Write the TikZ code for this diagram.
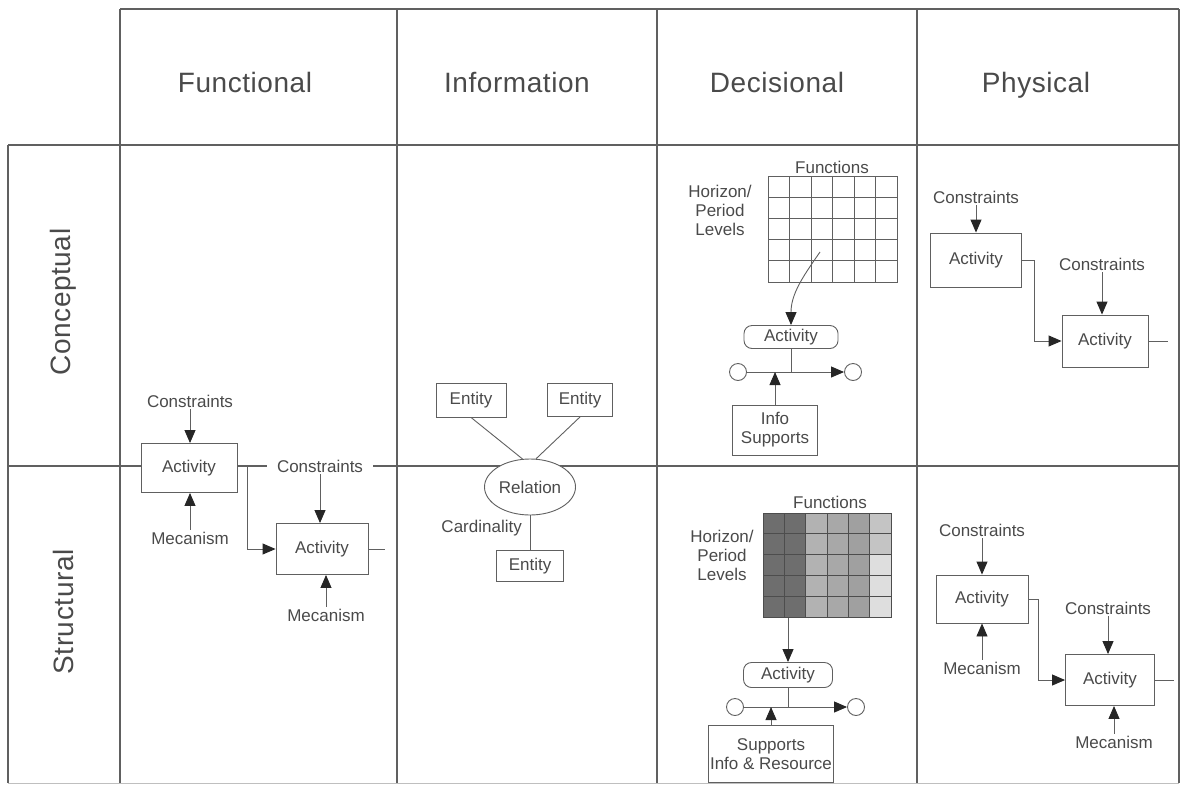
\documentclass[tikz,border=0pt]{standalone}
\usepackage{fontspec}
\setmainfont{Liberation Sans}
\newfontfamily\headfont[LetterSpace=2]{Liberation Sans}
\usetikzlibrary{arrows.meta,shapes.geometric}
\definecolor{ink}{HTML}{4A4A4A}
\definecolor{rule}{HTML}{606060}
\definecolor{tipc}{HTML}{262626}
\definecolor{shadeA}{HTML}{6E6E6E}
\definecolor{shadeB}{HTML}{B2B2B2}
\definecolor{shadeC}{HTML}{A8A8A8}
\definecolor{shadeD}{HTML}{A0A0A0}
\definecolor{shadeE}{HTML}{C4C4C4}
\definecolor{shadeF}{HTML}{DEDEDE}

\begin{document}
\begin{tikzpicture}[x=1pt,y=-1pt,
  every node/.style={text=ink,font=\fontsize{17}{19}\selectfont},
  rule/.style={draw=rule,line width=1.1pt},
  wire/.style={draw=rule,line width=0.9pt},
  arr/.style={wire,-{Triangle[length=13pt,width=11pt,color=tipc]}},
  head/.style={font=\headfont\fontsize{28}{32}\selectfont,anchor=base},
  actbox/.style={draw=rule,line width=0.9pt,fill=white,inner sep=0pt},
  roundact/.style={actbox,rounded corners=8pt},
  lbl/.style={inner sep=2pt},
  ent/.style={actbox},
  dot/.style={circle,draw=rule,line width=0.9pt,fill=white,minimum size=17pt,inner sep=0pt}
]
\useasboundingbox (0,0) rectangle (1182,785);

% ---- table frame ----
\draw[rule] (120,9) -- (1179,9);
\draw[rule] (8,145) -- (1179,145);
\draw[rule] (8,466) -- (1179,466);
\draw[draw=rule!40,line width=0.8pt] (8,783) -- (1179,783);
\draw[rule] (8,145) -- (8,783);
\foreach \x in {120,397,657,917,1179} \draw[rule] (\x,9) -- (\x,783);

% ---- headers ----
\node[head] (hfun) at (245,92) {Functional};
\node[head] (hinf) at (517,92) {Information};
\node[head] (hdec) at (777,92) {Decisional};
\node[head] (hphy) at (1036,92) {Physical};
\node[head,rotate=90,anchor=center] (rcon) at (63,302) {Conceptual};
\node[head,rotate=90,anchor=center] (rstr) at (63,612) {Structural};

% ---- functional view ----
\node[actbox,minimum width=96pt,minimum height=49pt] (fa1) at (189,468) {Activity};
\node[actbox,minimum width=92pt,minimum height=51pt] (fa2) at (322,549) {Activity};
\node[lbl] (fc1) at (190,401) {Constraints};
\node[lbl] (fm1) at (190,538) {Mecanism};
\node[fill=white,inner xsep=10pt,inner ysep=2pt] (fc2) at (320,466) {Constraints};
\node[lbl] (fm2) at (326,615) {Mecanism};
\coordinate (fsplit) at (247,466);
\draw[arr] (fc1.south) -- (fc1.south |- fa1.north);
\draw[arr] (fm1.north) -- (fm1.north |- fa1.south);
\draw[arr] (fsplit) |- (fa2.west);
\draw[arr] (fc2.south) -- (fc2.south |- fa2.north);
\draw[arr] (fm2.north) -- (fm2.north |- fa2.south);
\draw[wire] (fa2.east) -- ++(17,0);

% ---- information view ----
\node[ent,minimum width=70pt,minimum height=34pt] (ie1) at (471,400) {Entity};
\node[ent,minimum width=65pt,minimum height=33pt] (ie2) at (580,400) {Entity};
\node[ellipse,draw=rule,line width=0.9pt,fill=white,minimum width=91pt,minimum height=56pt,inner sep=0pt] (irel) at (530,487) {Relation};
\node[ent,minimum width=67pt,minimum height=31pt] (ie3) at (530,566) {Entity};
\node[lbl,anchor=east] (icard) at (524,528) {Cardinality};
\draw[wire] (ie1.south) -- (irel.105);
\draw[wire] (ie2.south) -- (irel.78);
\draw[wire] (irel.south) -- (ie3.north);

% ---- decisional view, conceptual ----
\node[lbl] (dfun1) at (832,167) {Functions};
\node[lbl,align=center] (dhor1) at (720,210) {Horizon/\\Period\\Levels};
\node[draw=rule,line width=0.9pt,minimum width=129pt,minimum height=106pt,inner sep=0pt,anchor=north west] (dg1) at (768,176) {};
\foreach \i in {1,...,5} \draw[wire] ({768+\i*21.5},176) -- ({768+\i*21.5},282);
\foreach \j in {1,...,4} \draw[wire] (768,{176+\j*21.2}) -- (897,{176+\j*21.2});
\coordinate (dsrc1) at (820,252);
\node[roundact,minimum width=94pt,minimum height=23pt] (dact1) at (791,337) {Activity};
\draw[arr] (dsrc1) to[out=235,in=90] (dact1.north);
\coordinate (dj1) at (791,372);
\node[dot] (dl1) at (738,372) {};
\node[dot] (dr1) at (853,372) {};
\draw[wire] (dact1.south) -- (dj1);
\draw[arr] (dl1.east) -- (dr1.west);
\node[ent,minimum width=85pt,minimum height=50pt,align=center] (dis1) at (775,430) {Info\\Supports};
\draw[arr] (dis1.north) -- (dis1.north |- dj1);

% ---- decisional view, structural ----
\node[lbl] (dfun2) at (830,502) {Functions};
\node[lbl,align=center] (dhor2) at (722,555) {Horizon/\\Period\\Levels};
\fill[shadeA] (763,513) rectangle (805.67,617);
\fill[shadeB] (805.67,513) rectangle (827,617);
\fill[shadeC] (827,513) rectangle (848.33,617);
\fill[shadeD] (848.33,513) rectangle (869.67,617);
\fill[shadeE] (869.67,513) rectangle (891,554.6);
\fill[shadeF] (869.67,554.6) rectangle (891,617);
\node[draw=rule!80!black,line width=0.9pt,minimum width=128pt,minimum height=104pt,inner sep=0pt,anchor=north west] (dg2) at (763,513) {};
\foreach \i in {1,...,5} \draw[draw=rule!80!black,line width=0.9pt] ({763+\i*21.333},513) -- ({763+\i*21.333},617);
\foreach \j in {1,...,4} \draw[draw=rule!80!black,line width=0.9pt] (763,{513+\j*20.8}) -- (891,{513+\j*20.8});
\node[roundact,minimum width=89pt,minimum height=25pt] (dact2) at (788,675) {Activity};
\draw[arr] (dact2.north |- dg2.south) -- (dact2.north);
\coordinate (dj2) at (788,707);
\node[dot] (dl2) at (735,707) {};
\node[dot] (dr2) at (856,707) {};
\draw[wire] (dact2.south) -- (dj2);
\draw[arr] (dl2.east) -- (dr2.west);
\node[ent,minimum width=125pt,minimum height=57pt,align=center] (dis2) at (771,754) {Supports\\Info \& Resource};
\draw[arr] (dis2.north) -- (dis2.north |- dj2);

% ---- physical view, conceptual ----
\node[actbox,minimum width=91pt,minimum height=54pt] (pa1) at (976,260) {Activity};
\node[actbox,minimum width=86pt,minimum height=52pt] (pa2) at (1105,341) {Activity};
\node[lbl] (pc1) at (976,197) {Constraints};
\node[lbl] (pc2) at (1102,264) {Constraints};
\draw[arr] (pc1.south) -- (pc1.south |- pa1.north);
\draw[arr] (pc2.south) -- (pc2.south |- pa2.north);
\draw[arr] (pa1.east) -- ++(12,0) |- (pa2.west);
\draw[wire] (pa2.east) -- ++(20,0);

% ---- physical view, structural ----
\node[actbox,minimum width=92pt,minimum height=48pt] (pb1) at (982,599) {Activity};
\node[actbox,minimum width=89pt,minimum height=51pt] (pb2) at (1110,680) {Activity};
\node[lbl] (ps1) at (982,530) {Constraints};
\node[lbl] (pm1) at (982,668) {Mecanism};
\node[lbl] (ps2) at (1108,608) {Constraints};
\node[lbl] (pm2) at (1114,742) {Mecanism};
\draw[arr] (ps1.south) -- (ps1.south |- pb1.north);
\draw[arr] (pm1.north) -- (pm1.north |- pb1.south);
\draw[arr] (ps2.south) -- (ps2.south |- pb2.north);
\draw[arr] (pm2.north) -- (pm2.north |- pb2.south);
\draw[arr] (pb1.east) -- ++(10,0) |- (pb2.west);
\draw[wire] (pb2.east) -- ++(19,0);
\end{tikzpicture}
\end{document}
